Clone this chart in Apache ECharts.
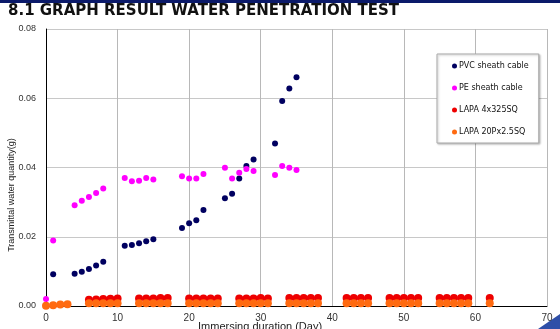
<!DOCTYPE html>
<html>
<head>
<meta charset="utf-8">
<script src="https://cdn.jsdelivr.net/npm/echarts@6/dist/echarts.min.js"></script>
<style>
  html, body { margin: 0; padding: 0; background: #ffffff; }
  #chart { width: 560px; height: 329px; }
</style>
</head>
<body>
<div id="chart"></div>
<script>
// Water penetration test: transmitted water quantity vs. immersion time
const seriesNames = ['PVC sheath cable', 'PE sheath cable', 'LAPA 4x325SQ', 'LAPA 20Px2.5SQ'];

const pvcDays = [1, 4, 5, 6, 7, 8, 11, 12, 13, 14, 15, 19, 20, 21, 22, 25, 26, 27, 28, 29, 32, 33, 34, 35];
const pvcValues = [0.0092, 0.0093, 0.0099, 0.0107, 0.0117, 0.0128, 0.0174, 0.0176, 0.0181, 0.0187, 0.0193,
  0.0225, 0.0239, 0.0248, 0.0277, 0.0311, 0.0324, 0.0368, 0.0404, 0.0423, 0.0469, 0.0592, 0.0628, 0.0661];

const peDays = [0, 1, 4, 5, 6, 7, 8, 11, 12, 13, 14, 15, 19, 20, 21, 22, 25, 26, 27, 28, 29, 32, 33, 34, 35];
const peValues = [0.0020, 0.0189, 0.0291, 0.0304, 0.0315, 0.0326, 0.0339, 0.0370, 0.0360, 0.0362, 0.0370, 0.0365,
  0.0375, 0.0368, 0.0368, 0.0381, 0.0399, 0.0368, 0.0385, 0.0396, 0.0390, 0.0378, 0.0404, 0.0399, 0.0393];

const lapa325Days = [6, 7, 8, 9, 10, 13, 14, 15, 16, 17, 20, 21, 22, 23, 24, 27, 28, 29, 30, 31,
  34, 35, 36, 37, 38, 42, 43, 44, 45, 48, 49, 50, 51, 52, 55, 56, 57, 58, 59, 62];
const lapa325Values = [0.0018, 0.0019, 0.0020, 0.0021, 0.0022, 0.0022, 0.0022, 0.0022, 0.0023, 0.0023,
  0.0022, 0.0022, 0.0022, 0.0022, 0.0022, 0.0022, 0.0022, 0.0022, 0.0023, 0.0022,
  0.0023, 0.0023, 0.0023, 0.0023, 0.0023, 0.0023, 0.0023, 0.0023, 0.0023, 0.0023, 0.0023, 0.0023, 0.0023, 0.0023,
  0.0023, 0.0023, 0.0023, 0.0023, 0.0023, 0.0023];

const lapa20pDays = [0, 1, 2, 3, 6, 7, 8, 9, 10, 13, 14, 15, 16, 17, 20, 21, 22, 23, 24, 27, 28, 29, 30, 31,
  34, 35, 36, 37, 38, 42, 43, 44, 45, 48, 49, 50, 51, 52, 55, 56, 57, 58, 59, 62];
const lapa20pValues = [0.0001, 0.0002, 0.0004, 0.0005, 0.0008, 0.0008, 0.0008, 0.0008, 0.0008,
  0.0008, 0.0008, 0.0008, 0.0008, 0.0008, 0.0008, 0.0008, 0.0008, 0.0008, 0.0008,
  0.0008, 0.0008, 0.0008, 0.0008, 0.0008, 0.0008, 0.0008, 0.0008, 0.0008, 0.0008,
  0.0008, 0.0008, 0.0008, 0.0008, 0.0008, 0.0008, 0.0008, 0.0008, 0.0008,
  0.0008, 0.0008, 0.0008, 0.0008, 0.0008, 0.0008];

const xTicks = [0, 10, 20, 30, 40, 50, 60, 70];
const yTicks = [0, 0.02, 0.04, 0.06, 0.08];

const colors = ['#000060', '#ff00ff', '#ee0000', '#ff6a10'];
const sizes = [6, 6, 8, 8];

function pairs(days, values) {
  return days.map((d, i) => [d, values[i]]);
}

const seriesData = [
  pairs(pvcDays, pvcValues),
  pairs(peDays, peValues),
  pairs(lapa325Days, lapa325Values),
  pairs(lapa20pDays, lapa20pValues)
];

const chart = echarts.init(document.getElementById('chart'), null, { renderer: 'canvas' });

chart.setOption({
  animation: false,
  backgroundColor: '#ffffff',
  grid: { left: 46, right: 13, top: 29, bottom: 23 },
  graphic: [
    { type: 'rect', left: 0, top: 0, shape: { width: 560, height: 3 }, style: { fill: '#0b1a6a' } },
    { type: 'polygon', shape: { points: [[538, 329], [560, 329], [560, 314]] }, style: { fill: '#2f4fa8' } },
    {
      type: 'text', left: 8, top: 4,
      style: { text: '8.1 GRAPH RESULT WATER PENETRATION TEST', fill: '#111111',
        font: 'bold 15px "DejaVu Sans", Verdana, sans-serif' }
    },
    {
      type: 'text', left: 198, top: 321,
      style: { text: 'Immersing duration (Day)', fill: '#222222', font: '11px "Liberation Sans", Arial, sans-serif' }
    },
    {
      type: 'text', x: 12, y: 195, rotation: Math.PI / 2,
      style: { text: 'Transmittal water quantity(g)', fill: '#222222', font: '9px "Liberation Sans", Arial, sans-serif',
        align: 'center', verticalAlign: 'middle' }
    }
  ],
  legend: {
    orient: 'vertical',
    left: 437, top: 54,
    padding: [8, 10, 7, 15],
    itemGap: 14,
    itemWidth: 5, itemHeight: 5,
    icon: 'circle',
    backgroundColor: '#ffffff',
    borderColor: '#aaaaaa', borderWidth: 1,
    shadowColor: 'rgba(0,0,0,0.25)', shadowBlur: 2, shadowOffsetX: 1, shadowOffsetY: 1,
    textStyle: { fontSize: 8, color: '#111111', fontFamily: '"DejaVu Sans", sans-serif', padding: [0, 0, 0, -3] },
    data: seriesNames
  },
  xAxis: {
    type: 'value', min: xTicks[0], max: xTicks[xTicks.length - 1], interval: 10,
    axisLine: { lineStyle: { color: '#000000', width: 1 } },
    axisTick: { show: false },
    axisLabel: { fontSize: 10, color: '#333333', margin: 7, fontFamily: '"Liberation Sans", Arial, sans-serif' },
    splitLine: { show: true, lineStyle: { color: '#b8b8b8', width: 1 } }
  },
  yAxis: {
    type: 'value', min: yTicks[0], max: yTicks[yTicks.length - 1], interval: 0.02,
    axisLine: { show: true, lineStyle: { color: '#000000', width: 1 } },
    axisTick: { show: false },
    axisLabel: { fontSize: 9, color: '#333333', margin: 10, fontFamily: '"Liberation Sans", Arial, sans-serif',
      formatter: v => v.toFixed(2) },
    splitLine: { show: true, lineStyle: { color: '#c8c8c8', width: 1 } }
  },
  series: seriesNames.map((name, i) => ({
    name,
    type: 'scatter',
    symbol: 'circle',
    symbolSize: sizes[i],
    itemStyle: { color: colors[i], opacity: 1 },
    data: seriesData[i]
  }))
});
</script>
</body>
</html>
